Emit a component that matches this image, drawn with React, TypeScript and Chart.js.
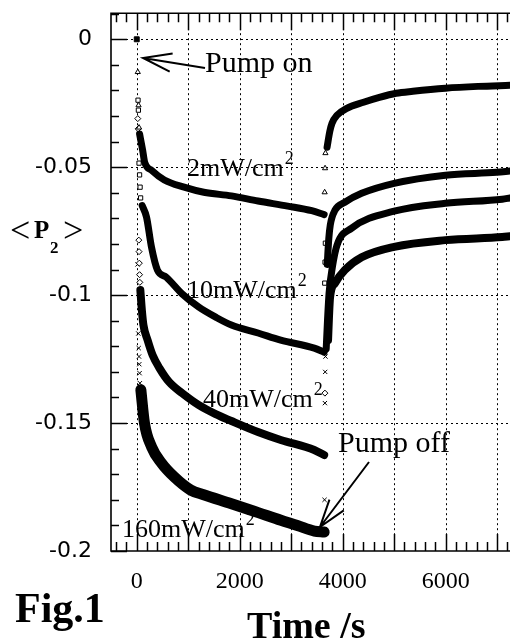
import { useEffect, useRef } from 'react';
import { Chart, registerables } from 'chart.js';

Chart.register(...registerables);

// Axis limits and tick values
const T_MIN = -500;
const T_MAX = 7250;
const P_MIN = -0.2;
const P_MAX = 0.0102;
const T_GRID = [0, 1000, 2000, 3000, 4000, 5000, 6000, 7000];
const T_LABELED = [0, 2000, 4000, 6000];
const P_TICKS = [0, -0.05, -0.1, -0.15, -0.2];
const P_GRID = [0, -0.05, -0.1, -0.15];

// Value of <P2> when the pump is switched on
const START: number[][] = [[0, 0]];

// 2 mW/cm2  [time (s), <P2>]
const ONSET_2 = [[20, -0.0128], [35, -0.0258], [45, -0.0345]];
const DECAY_2 = [[55, -0.037], [115, -0.0434], [153, -0.048], [287, -0.0512], [536, -0.055], [920, -0.0578], [1303, -0.0598], [1839, -0.0612], [2356, -0.0632], [2931, -0.0652], [3400, -0.067], [3640, -0.0685]];
const OFF_2 = [[3650, -0.0598], [3658, -0.0504], [3665, -0.0445]];
const RISE_2 = [[3697, -0.0422], [3750, -0.036], [3793, -0.0328], [3889, -0.0297], [4080, -0.027], [4406, -0.0246], [4713, -0.0227], [5038, -0.0211], [5364, -0.0203], [5996, -0.0191], [6628, -0.0184], [7250, -0.018]];

// 10 mW/cm2
const ONSET_10 = [[25, -0.0238], [32, -0.0277], [45, -0.0484], [55, -0.053], [65, -0.0578], [75, -0.062]];
const DECAY_10 = [[105, -0.065], [190, -0.0695], [287, -0.0813], [402, -0.0902], [575, -0.093], [881, -0.0995], [1207, -0.1047], [1533, -0.1086], [1839, -0.1117], [2356, -0.1148], [2797, -0.1176], [3448, -0.1207], [3640, -0.1223]];
const OFF_10 = [[3652, -0.0953], [3658, -0.0871], [3664, -0.0797]];
const RISE_10 = [[3700, -0.088], [3730, -0.078], [3760, -0.0725], [3851, -0.0668], [4042, -0.0637], [4368, -0.0602], [5000, -0.0563], [5996, -0.0531], [6992, -0.052], [7250, -0.0515]];

// 40 mW/cm2
const ONSET_40 = [[20, -0.031], [28, -0.035], [40, -0.0785], [45, -0.083], [50, -0.0875], [55, -0.092], [60, -0.095]];
const DECAY_40 = [[70, -0.098], [100, -0.106], [130, -0.1117], [211, -0.1176], [307, -0.1234], [441, -0.1285], [632, -0.134], [881, -0.1383], [1207, -0.143], [1533, -0.1465], [1839, -0.1492], [2356, -0.1535], [2797, -0.1566], [3448, -0.1605], [3640, -0.1625]];
const OFF_40 = [[3655, -0.1383]];
const RISE_40 = [[3680, -0.121], [3705, -0.11], [3736, -0.0992], [3800, -0.089], [3889, -0.0805], [4176, -0.0738], [5000, -0.0672], [5996, -0.0641], [7100, -0.0625], [7250, -0.062]];

// 160 mW/cm2
const ONSET_160 = [[15, -0.088], [30, -0.115], [38, -0.1207], [44, -0.124], [50, -0.127], [56, -0.1305], [62, -0.1344]];
const DECAY_160 = [[80, -0.137], [150, -0.15], [290, -0.1594], [480, -0.1656], [730, -0.1711], [1050, -0.1762], [1300, -0.178], [1840, -0.1815], [2360, -0.185], [2800, -0.188], [3120, -0.19], [3450, -0.1922], [3640, -0.1926]];
const OFF_160 = [[3648, -0.18], [3655, -0.1422], [3660, -0.13], [3666, -0.124]];
const RISE_160 = [[3716, -0.1176], [3735, -0.108], [3755, -0.1008], [3851, -0.0953], [4042, -0.0902], [4368, -0.0852], [5000, -0.0811], [5996, -0.0785], [7100, -0.0773], [7250, -0.077]];

const SERIF = "'Liberation Serif', 'Times New Roman', serif";
const SANS = "'DejaVu Sans', sans-serif";

const xy = (pairs: number[][]) => pairs.map(([x, y]) => ({ x, y }));

const band = (pairs: number[][], width: number) => ({
  data: xy(pairs),
  borderColor: '#000',
  borderWidth: width,
  pointRadius: 0,
  fill: false,
  cubicInterpolationMode: 'monotone' as const,
  borderCapStyle: 'round' as const,
  borderJoinStyle: 'round' as const,
});

const markers = (pairs: number[][], style: string, filled = false, r = 3) => ({
  data: xy(pairs),
  showLine: false,
  pointStyle: style,
  pointRadius: r,
  pointBorderWidth: 1,
  pointBorderColor: '#000',
  pointBackgroundColor: filled ? '#000' : '#fff',
});

function arrow(ctx: CanvasRenderingContext2D, fx: number, fy: number, tx: number, ty: number, head: number) {
  const ang = Math.atan2(fy - ty, fx - tx);
  const spread = (18 * Math.PI) / 180;
  ctx.beginPath();
  ctx.moveTo(fx, fy);
  ctx.lineTo(tx, ty);
  ctx.moveTo(tx + head * Math.cos(ang - spread), ty + head * Math.sin(ang - spread));
  ctx.lineTo(tx, ty);
  ctx.lineTo(tx + head * Math.cos(ang + spread), ty + head * Math.sin(ang + spread));
  ctx.stroke();
}

function unitLabel(ctx: CanvasRenderingContext2D, text: string, x: number, y: number) {
  ctx.font = `26px ${SERIF}`;
  ctx.fillText(text, x, y);
  const w = ctx.measureText(text).width;
  ctx.font = `18px ${SERIF}`;
  ctx.fillText('2', x + w + 1, y - 12);
}

const framePlugin = {
  id: 'frame',
  beforeDatasetsDraw(chart: any) {
    const { ctx, chartArea: a, scales } = chart;
    const xs = scales.x;
    const ys = scales.y;
    ctx.save();
    ctx.strokeStyle = '#000';
    ctx.lineWidth = 1;
    ctx.setLineDash([2, 3]);
    ctx.beginPath();
    for (const t of T_GRID) {
      const px = Math.round(xs.getPixelForValue(t)) + 0.5;
      ctx.moveTo(px, a.top);
      ctx.lineTo(px, a.bottom);
    }
    for (const p of P_GRID) {
      const py = Math.round(ys.getPixelForValue(p)) + 0.5;
      ctx.moveTo(a.left, py);
      ctx.lineTo(a.right, py);
    }
    ctx.stroke();
    ctx.restore();
  },
  afterDatasetsDraw(chart: any) {
    const { ctx, chartArea: a, scales } = chart;
    const xs = scales.x;
    const ys = scales.y;
    ctx.save();
    ctx.strokeStyle = '#000';
    ctx.fillStyle = '#000';
    ctx.setLineDash([]);

    // frame: left, top and bottom edges
    ctx.lineWidth = 1.6;
    ctx.beginPath();
    ctx.moveTo(a.right, a.top);
    ctx.lineTo(a.left, a.top);
    ctx.lineTo(a.left, a.bottom);
    ctx.lineTo(a.right, a.bottom);
    ctx.stroke();

    // inward tick marks
    ctx.lineWidth = 1.5;
    ctx.beginPath();
    for (let t = -400; t <= T_MAX; t += 200) {
      const px = Math.round(xs.getPixelForValue(t)) + 0.5;
      const len = t % 1000 === 0 ? 17 : 9;
      ctx.moveTo(px, a.bottom);
      ctx.lineTo(px, a.bottom - len);
      ctx.moveTo(px, a.top);
      ctx.lineTo(px, a.top + len);
    }
    for (let k = 1; k >= -20; k--) {
      const p = k / 100;
      const py = Math.round(ys.getPixelForValue(p)) + 0.5;
      const len = k % 5 === 0 ? 16 : 8;
      ctx.moveTo(a.left, py);
      ctx.lineTo(a.left + len, py);
    }
    ctx.stroke();

    // annotations
    ctx.textBaseline = 'alphabetic';
    ctx.textAlign = 'left';
    ctx.font = `30px ${SERIF}`;
    ctx.fillText('Pump on', 205, 72);
    ctx.fillText('Pump off', 338, 452);
    ctx.lineWidth = 2;
    arrow(ctx, 205, 68, 143, 58, 30);
    arrow(ctx, 369, 462, 320, 527, 29);

    unitLabel(ctx, '2mW/cm', 187, 176);
    unitLabel(ctx, '10mW/cm', 187, 298);
    unitLabel(ctx, '40mW/cm', 203, 407);
    unitLabel(ctx, '160mW/cm', 122, 537);
    ctx.restore();
  },
  afterDraw(chart: any) {
    const { ctx } = chart;
    ctx.save();
    ctx.fillStyle = '#000';
    ctx.textAlign = 'left';
    ctx.textBaseline = 'alphabetic';
    // y-axis title  <P2>
    ctx.font = `36px ${SERIF}`;
    ctx.fillText('<', 10, 242);
    ctx.fillText('>', 63, 242);
    ctx.font = `bold 25px ${SERIF}`;
    ctx.fillText('P', 34, 238);
    ctx.font = `bold 17px ${SERIF}`;
    ctx.fillText('2', 50, 253);
    // x-axis title and figure tag
    ctx.font = `bold 38px ${SERIF}`;
    ctx.fillText('Time /s', 247, 638);
    ctx.font = `bold 42px ${SERIF}`;
    ctx.fillText('Fig.1', 15, 622);
    ctx.restore();
  },
};

export default function App() {
  const ref = useRef<HTMLCanvasElement>(null);

  useEffect(() => {
    const canvas = ref.current;
    if (!canvas) return;
    const chart = new Chart(canvas, {
      type: 'line',
      data: {
        datasets: [
          band(DECAY_160, 11),
          band(RISE_160, 8),
          band(DECAY_40, 8),
          band(RISE_40, 7),
          band(DECAY_10, 7),
          band(RISE_10, 7),
          band(DECAY_2, 7),
          band(RISE_2, 7),
          markers(ONSET_2, 'triangle'),
          markers(OFF_2, 'triangle'),
          markers(ONSET_10, 'rect'),
          markers(OFF_10, 'rect'),
          markers(ONSET_40, 'rectRot'),
          markers(OFF_40, 'rectRot'),
          markers(ONSET_160, 'crossRot'),
          markers(OFF_160, 'crossRot'),
          markers(START, 'rect', true, 3.5),
        ] as any,
      },
      options: {
        responsive: false,
        animation: false,
        devicePixelRatio: 1,
        parsing: false,
        layout: { padding: { top: 13, right: 0, left: 0, bottom: 0 } },
        plugins: { legend: { display: false }, tooltip: { enabled: false }, title: { display: false } },
        scales: {
          x: {
            type: 'linear',
            min: T_MIN,
            max: T_MAX,
            afterFit: (s: any) => { s.height = 92; },
            afterBuildTicks: (s: any) => { s.ticks = T_GRID.map((value) => ({ value })); },
            grid: { display: true, drawOnChartArea: false, drawTicks: true, tickLength: 16, color: 'rgba(0,0,0,0)' },
            border: { display: false },
            ticks: {
              autoSkip: false,
              maxRotation: 0,
              padding: 0,
              color: '#000',
              font: { family: SERIF, size: 24 },
              callback: (v: any) => (T_LABELED.includes(Number(v)) ? String(v) : ''),
            },
          },
          y: {
            type: 'linear',
            min: P_MIN,
            max: P_MAX,
            afterFit: (s: any) => { s.width = 111; },
            afterBuildTicks: (s: any) => { s.ticks = P_TICKS.map((value) => ({ value })); },
            grid: { display: true, drawOnChartArea: false, drawTicks: true, tickLength: 19, color: 'rgba(0,0,0,0)' },
            border: { display: false },
            ticks: {
              padding: 0,
              color: '#000',
              font: { family: SANS, size: 22 },
              callback: (v: any) => String(Number(Number(v).toFixed(2))),
            },
          },
        },
      },
      plugins: [framePlugin],
    });
    return () => chart.destroy();
  }, []);

  return (
    <canvas
      ref={ref}
      width={515}
      height={643}
      style={{ position: 'absolute', left: 0, top: 0, width: 515, height: 643 }}
    />
  );
}
